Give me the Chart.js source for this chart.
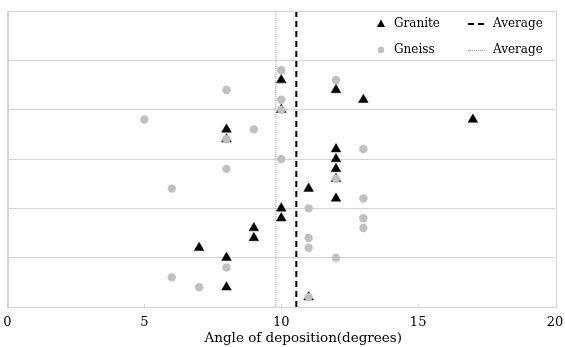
<!DOCTYPE html>
<html lang="en">
<head>
  <meta charset="utf-8">
  <script src="https://cdn.jsdelivr.net/npm/chart.js"></script>
  <style>
    body { margin: 0; background: #fff; }
    .box { width: 565px; height: 347px; position: relative; }
  </style>
</head>
<body>
  <div class="box">
    <canvas id="chartScatter"></canvas>
  </div>

<script>
  // dados
  var graniteX = [7, 8, 8, 8, 8, 9, 9, 10, 10, 10, 10, 11, 11, 12, 12, 12, 12, 12, 12, 13, 17];
  var graniteY = [1.2, 3.6, 3.4, 1.0, 0.4, 1.6, 1.4, 4.6, 4.0, 2.0, 1.8, 2.4, 0.2, 4.4, 3.2, 3.0, 2.8, 2.6, 2.2, 4.2, 3.8];
  var gneissX = [5, 6, 6, 7, 8, 8, 8, 8, 9, 10, 10, 10, 10, 11, 11, 11, 11, 12, 12, 12, 13, 13, 13, 13];
  var gneissY = [3.8, 2.4, 0.6, 0.4, 4.4, 3.4, 2.8, 0.8, 3.6, 4.8, 4.2, 4.0, 3.0, 2.0, 1.4, 1.2, 0.2, 4.6, 2.6, 1.0, 3.2, 2.2, 1.8, 1.6];
  var averageGranite = 10.55;
  var averageGneiss = 9.8;
  var xTicks = [0, 5, 10, 15, 20];
  var yRange = [0, 6];
  var tituloX = 'Angle of deposition(degrees)';

  var fonte = "'DejaVu Serif', serif";
  var cinza = '#c0c0c0';
  var linhaGrade = '#d4d4d4';

  function pontos(xs, ys) {
    return xs.map(function (x, i) { return { x: x, y: ys[i] }; });
  }

  // moldura + pequenos traços no eixo x + título do eixo (um pouco deslocado à direita, como no original)
  var moldura = {
    id: 'moldura',
    afterDraw: function (chart) {
      var ctx = chart.ctx;
      var a = chart.chartArea;
      var sx = chart.scales.x;
      ctx.save();
      ctx.strokeStyle = linhaGrade;
      ctx.lineWidth = 1;
      ctx.strokeRect(Math.round(a.left) + 0.5, Math.round(a.top) + 0.5, Math.round(a.right - a.left), Math.round(a.bottom - a.top));
      xTicks.slice(1, -1).forEach(function (t) {
        var px = Math.round(sx.getPixelForValue(t)) + 0.5;
        ctx.beginPath();
        ctx.moveTo(px, a.bottom - 3);
        ctx.lineTo(px, a.bottom);
        ctx.stroke();
      });
      ctx.font = '13.5px ' + fonte;
      ctx.fillStyle = '#000';
      ctx.textAlign = 'center';
      ctx.textBaseline = 'middle';
      ctx.fillText(tituloX, (a.left + a.right) / 2 + 22, a.bottom + 31);
      ctx.restore();
    }
  };

  // legenda 2x2 desenhada dentro da área do gráfico
  var legenda = {
    id: 'legenda',
    afterDraw: function (chart) {
      var ctx = chart.ctx;
      var a = chart.chartArea;
      var col1 = a.right - 174, col2 = a.right - 87;
      var row1 = a.top + 13, row2 = a.top + 39;
      ctx.save();
      ctx.font = '12px ' + fonte;
      ctx.fillStyle = '#000';
      ctx.textBaseline = 'middle';
      ctx.textAlign = 'left';

      // triângulo
      ctx.beginPath();
      ctx.moveTo(col1, row1 - 4.5);
      ctx.lineTo(col1 + 4, row1 + 3);
      ctx.lineTo(col1 - 4, row1 + 3);
      ctx.closePath();
      ctx.fill();
      ctx.fillText('Granite', col1 + 13, row1);

      // círculo
      ctx.fillStyle = cinza;
      ctx.beginPath();
      ctx.arc(col1, row2, 3.2, 0, Math.PI * 2);
      ctx.fill();
      ctx.fillStyle = '#000';
      ctx.fillText('Gneiss', col1 + 13, row2);

      // linha tracejada
      ctx.strokeStyle = '#000';
      ctx.lineWidth = 2;
      ctx.setLineDash([6, 4]);
      ctx.beginPath();
      ctx.moveTo(col2, row1);
      ctx.lineTo(col2 + 17, row1);
      ctx.stroke();
      ctx.fillText('Average', col2 + 25, row1);

      // linha pontilhada
      ctx.strokeStyle = '#a0a0a0';
      ctx.lineWidth = 1;
      ctx.setLineDash([1, 1]);
      ctx.beginPath();
      ctx.moveTo(col2, row2 + 0.5);
      ctx.lineTo(col2 + 17, row2 + 0.5);
      ctx.stroke();
      ctx.fillText('Average', col2 + 25, row2);
      ctx.restore();
    }
  };

  var ctxScatter = document.getElementById('chartScatter').getContext('2d');
  var configScatter = {
    type: 'scatter',
    data: {
      datasets: [
        {
          label: 'Gneiss',
          data: pontos(gneissX, gneissY),
          pointStyle: 'circle',
          pointRadius: 4.2,
          backgroundColor: cinza,
          borderColor: cinza,
          borderWidth: 0
        },
        {
          label: 'Granite',
          data: pontos(graniteX, graniteY),
          pointStyle: 'triangle',
          pointRadius: 5.6,
          backgroundColor: '#000',
          borderColor: '#000',
          borderWidth: 0.5
        },
        {
          label: 'Average',
          type: 'line',
          data: [{ x: averageGranite, y: yRange[0] }, { x: averageGranite, y: yRange[1] }],
          borderColor: '#000',
          borderWidth: 2,
          borderDash: [6, 4],
          pointRadius: 0,
          fill: false
        },
        {
          label: 'Average',
          type: 'line',
          data: [{ x: averageGneiss, y: yRange[0] }, { x: averageGneiss, y: yRange[1] }],
          borderColor: '#a0a0a0',
          borderWidth: 1,
          borderDash: [1, 1],
          pointRadius: 0,
          fill: false
        }
      ]
    },
    options: {
      responsive: true,
      maintainAspectRatio: false,
      animation: false,
      layout: { padding: { left: 7.5, right: 10, top: 11, bottom: 0 } },
      plugins: {
        legend: { display: false },
        tooltip: { enabled: false }
      },
      scales: {
        x: {
          type: 'linear',
          min: xTicks[0],
          max: xTicks[xTicks.length - 1],
          afterBuildTicks: function (scale) {
            scale.ticks = xTicks.map(function (v) { return { value: v }; });
          },
          afterFit: function (scale) {
            scale.height = 40;
            scale.paddingLeft = 0;
            scale.paddingRight = 0;
          },
          grid: { display: false, drawTicks: false },
          border: { display: true, color: linhaGrade },
          ticks: { color: '#000', padding: 8, font: { family: fonte, size: 13 } }
        },
        y: {
          type: 'linear',
          min: yRange[0],
          max: yRange[1],
          afterFit: function (scale) { scale.width = 0; },
          ticks: { display: false, stepSize: 1 },
          grid: { color: linhaGrade, drawTicks: false },
          border: { display: true, color: linhaGrade }
        }
      }
    },
    plugins: [moldura, legenda]
  };

  var grafico = new Chart(ctxScatter, configScatter);
</script>
</body>
</html>
